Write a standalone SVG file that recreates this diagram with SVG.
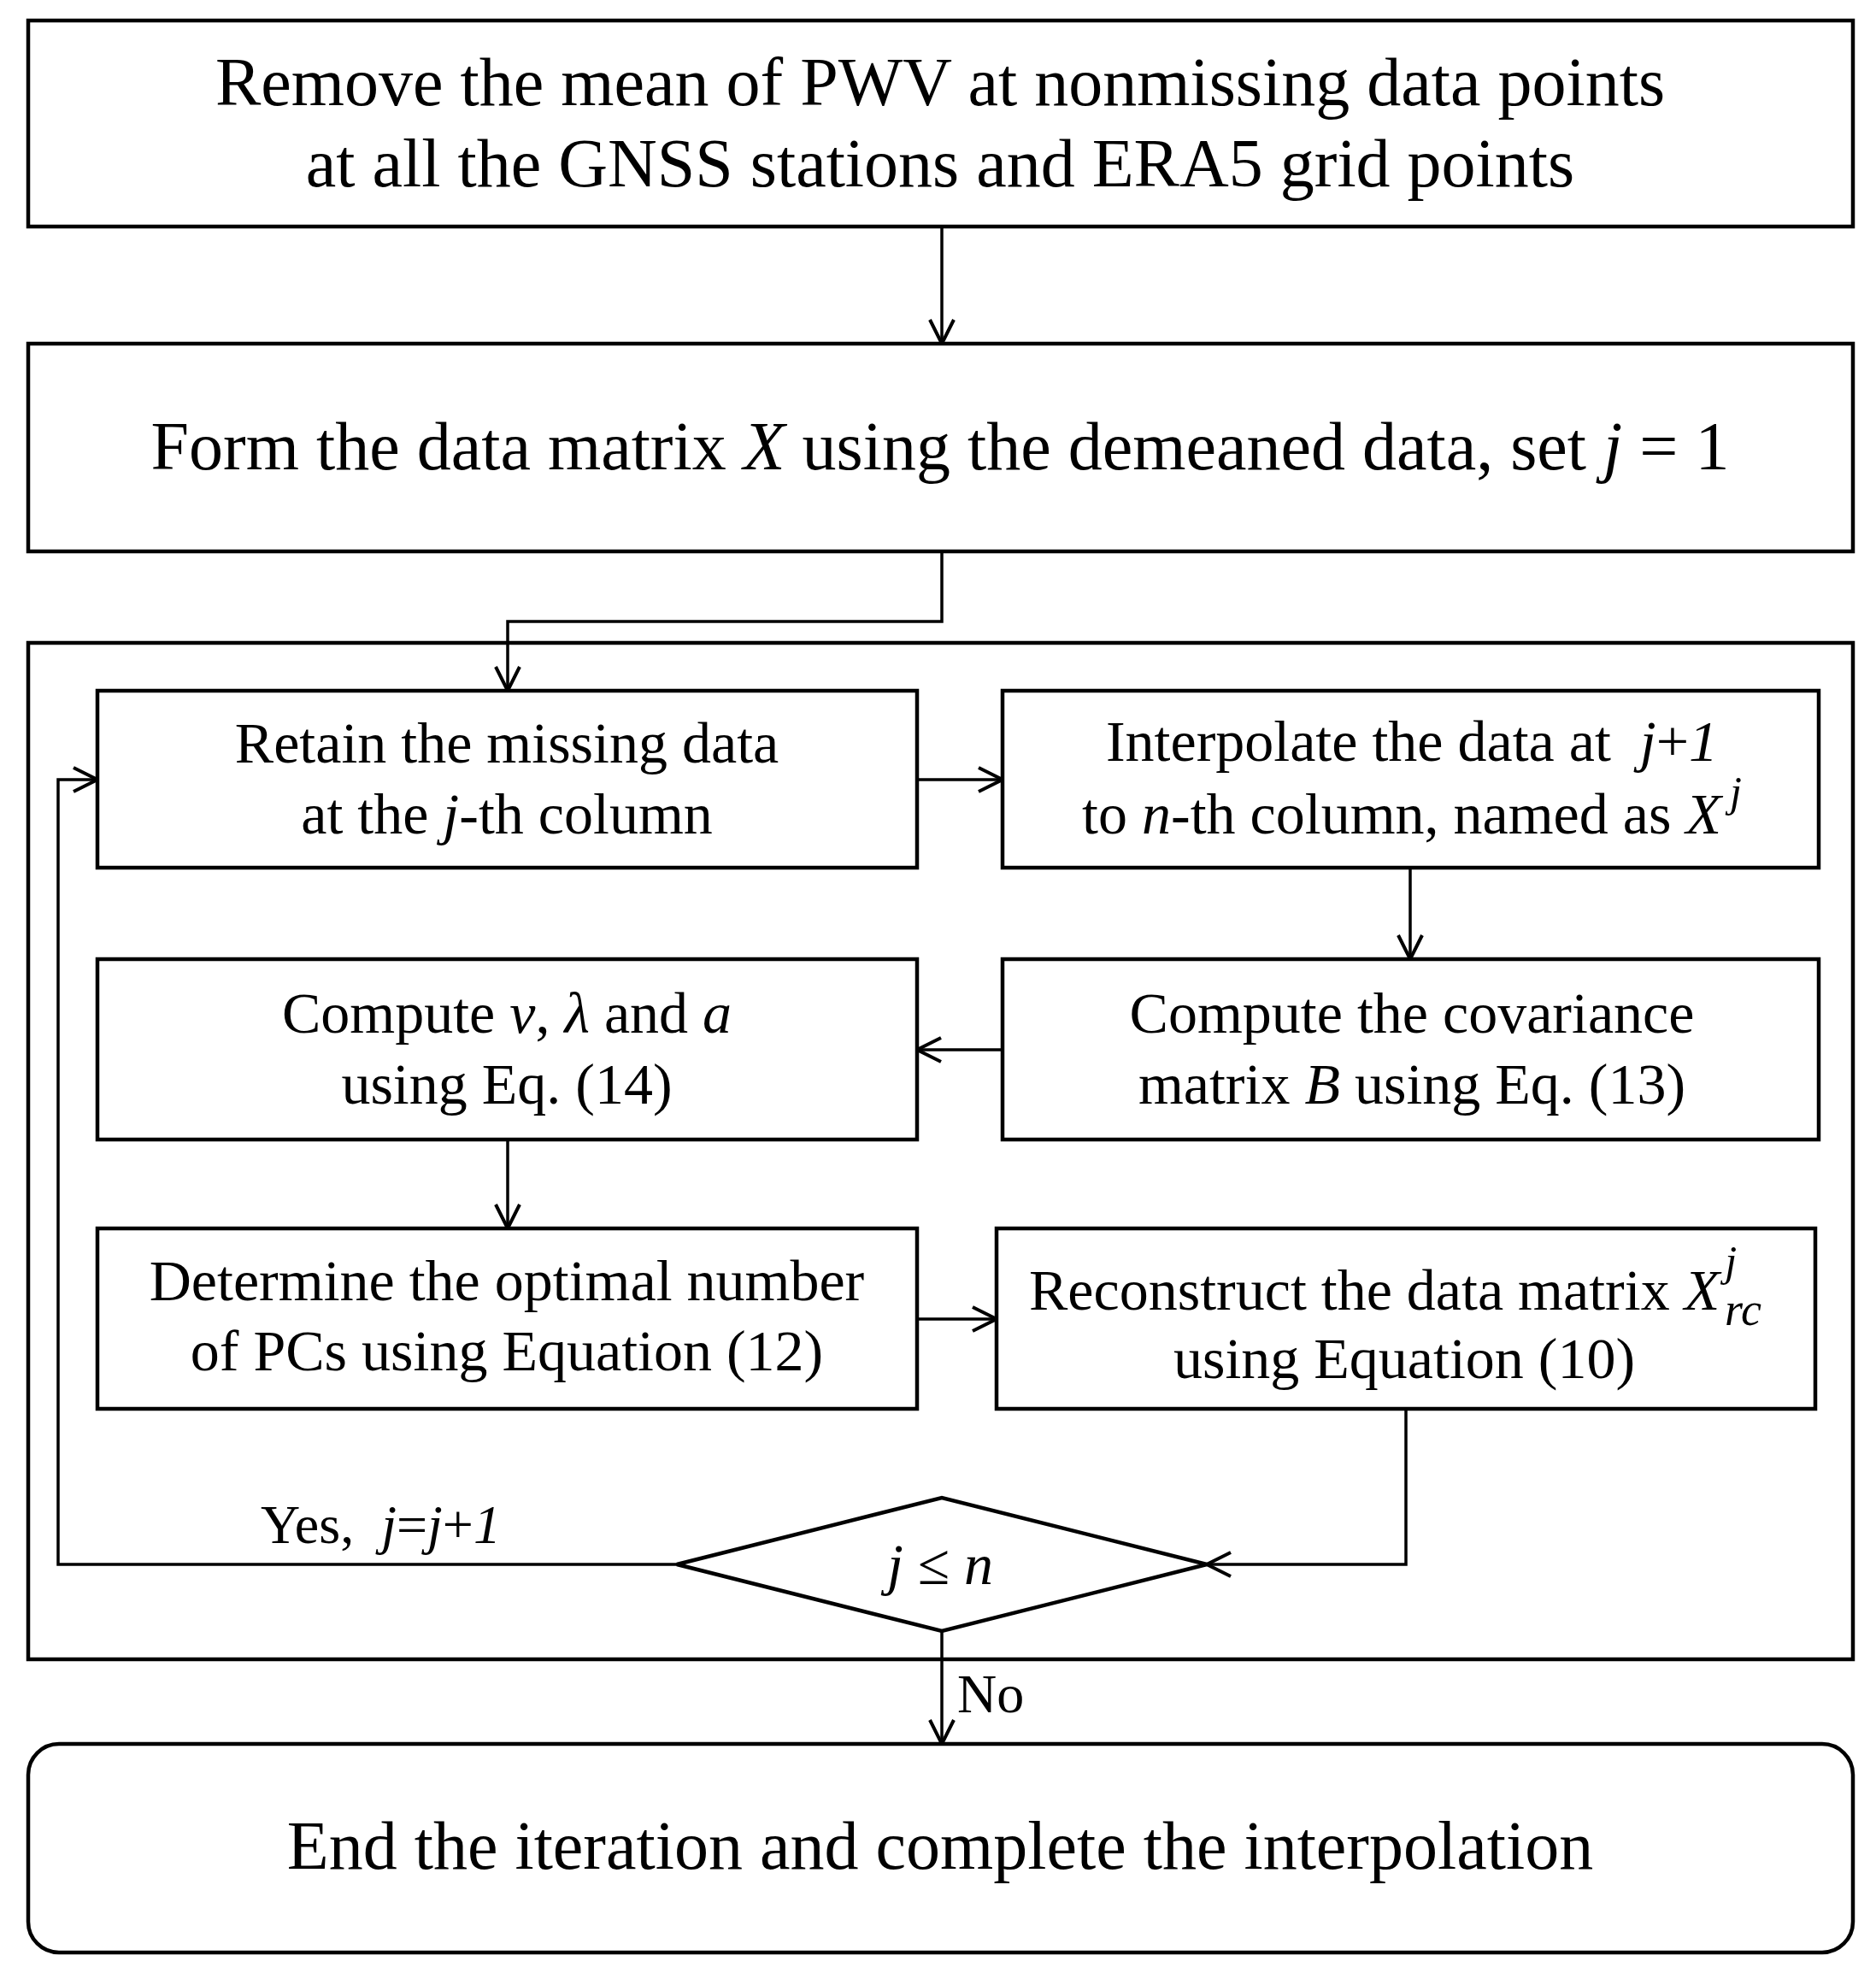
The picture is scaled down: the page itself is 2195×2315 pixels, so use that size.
<svg xmlns="http://www.w3.org/2000/svg" width="2195" height="2315" viewBox="0 0 2195 2315">
<style>
  .box { fill: #fff; stroke: #000; stroke-width: 4.5; }
  .frame { fill: none; stroke: #000; stroke-width: 4.5; }
  .conn { fill: none; stroke: #000; stroke-width: 3.5; }
  text { font-family: "Liberation Serif", "Times New Roman", serif; fill: #000; }
  .big { font-size: 80px; }
  .mid { font-size: 68px; }
  .lab { font-size: 64px; }
  .it { font-style: italic; }
</style>
<defs>
  <marker id="arr" viewBox="-32 -17 34 34" refX="0" refY="0" markerWidth="34" markerHeight="34" markerUnits="userSpaceOnUse" orient="auto">
    <path d="M-28,-14 L0,0 L-28,14" fill="none" stroke="#000" stroke-width="4"/>
  </marker>
</defs>
<rect width="2195" height="2315" fill="#fff"/>

<g id="loop-frame">
  <rect class="frame" x="33" y="752" width="2135" height="1189"/>
</g>

<g id="connectors">
  <path class="conn" d="M1102,265 L1102,402" marker-end="url(#arr)"/>
  <path class="conn" d="M1102,645 L1102,727 L594,727 L594,808" marker-end="url(#arr)"/>
  <path class="conn" d="M1073,912 L1173,912" marker-end="url(#arr)"/>
  <path class="conn" d="M1650,1015 L1650,1122" marker-end="url(#arr)"/>
  <path class="conn" d="M1173,1228 L1073,1228" marker-end="url(#arr)"/>
  <path class="conn" d="M594,1333 L594,1437" marker-end="url(#arr)"/>
  <path class="conn" d="M1073,1543 L1166,1543" marker-end="url(#arr)"/>
  <path class="conn" d="M1645,1648 L1645,1830 L1412,1830" marker-end="url(#arr)"/>
  <path class="conn" d="M792,1830 L68,1830 L68,912 L114,912" marker-end="url(#arr)"/>
  <path class="conn" d="M1102,1908 L1102,2040" marker-end="url(#arr)"/>
  <text class="lab" x="305" y="1805" xml:space="preserve">Yes,  <tspan class="it">j</tspan>=<tspan class="it">j</tspan>+<tspan class="it">1</tspan></text>
  <text class="lab" x="1120" y="2003">No</text>
</g>

<g id="remove-mean">
  <rect class="box" x="33" y="24" width="2135" height="241"/>
  <text class="big" x="1100" y="123" text-anchor="middle">Remove the mean of PWV at nonmissing data points</text>
  <text class="big" x="1100" y="218" text-anchor="middle">at all the GNSS stations and ERA5 grid points</text>
</g>

<g id="form-matrix">
  <rect class="box" x="33" y="402" width="2135" height="243"/>
  <text class="big" x="1100" y="549" text-anchor="middle">Form the data matrix <tspan class="it">X</tspan> using the demeaned data, set <tspan class="it">j</tspan> = 1</text>
</g>

<g id="retain">
  <rect class="box" x="114" y="808" width="959" height="207"/>
  <text class="mid" x="593" y="892" text-anchor="middle">Retain the missing data</text>
  <text class="mid" x="593" y="975" text-anchor="middle">at the <tspan class="it">j</tspan>-th column</text>
</g>

<g id="interpolate">
  <rect class="box" x="1173" y="808" width="955" height="207"/>
  <text class="mid" x="1652" y="890" text-anchor="middle" xml:space="preserve">Interpolate the data at  <tspan class="it">j</tspan>+<tspan class="it">1</tspan></text>
  <text class="mid" x="1652" y="975" text-anchor="middle">to <tspan class="it">n</tspan>-th column, named as <tspan class="it">X</tspan><tspan class="it" font-size="50" dx="10" dy="-32">j</tspan></text>
</g>

<g id="compute-eig">
  <rect class="box" x="114" y="1122" width="959" height="211"/>
  <text class="mid" x="593" y="1208" text-anchor="middle">Compute <tspan class="it">v</tspan>, <tspan class="it">λ</tspan> and <tspan class="it">a</tspan></text>
  <text class="mid" x="593" y="1291" text-anchor="middle">using Eq. (14)</text>
</g>

<g id="covariance">
  <rect class="box" x="1173" y="1122" width="955" height="211"/>
  <text class="mid" x="1652" y="1208" text-anchor="middle">Compute the covariance</text>
  <text class="mid" x="1652" y="1291" text-anchor="middle">matrix <tspan class="it">B</tspan> using Eq. (13)</text>
</g>

<g id="determine">
  <rect class="box" x="114" y="1437" width="959" height="211"/>
  <text class="mid" x="593" y="1521" text-anchor="middle">Determine the optimal number</text>
  <text class="mid" x="593" y="1603" text-anchor="middle">of PCs using Equation (12)</text>
</g>

<g id="reconstruct">
  <rect class="box" x="1166" y="1437" width="958" height="211"/>
  <text class="mid" x="1204" y="1532">Reconstruct the data matrix <tspan class="it">X</tspan><tspan class="it" font-size="50" dx="6" dy="-40">j</tspan><tspan class="it" font-size="54" dx="-14" dy="58">rc</tspan></text>
  <text class="mid" x="1643" y="1612" text-anchor="middle">using Equation (10)</text>
</g>

<g id="decision">
  <polygon class="box" points="792,1830 1102,1752 1412,1830 1102,1908"/>
  <text class="mid" x="1100" y="1853" text-anchor="middle" font-size="70"><tspan class="it">j</tspan> ≤ <tspan class="it">n</tspan></text>
</g>

<g id="end">
  <rect class="box" x="33" y="2040" width="2135" height="244" rx="36" ry="36"/>
  <text class="big" x="1100" y="2186" text-anchor="middle">End the iteration and complete the interpolation</text>
</g>
</svg>
